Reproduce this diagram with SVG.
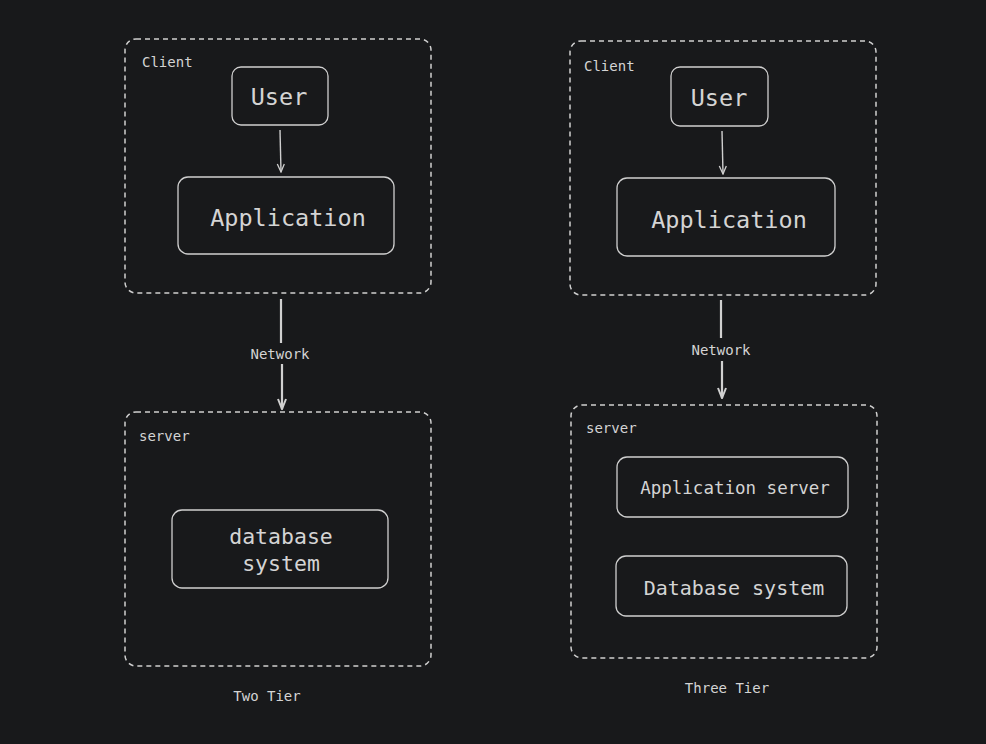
<svg xmlns="http://www.w3.org/2000/svg" width="986" height="744" viewBox="0 0 986 744">
<defs>
<style>
.bg{fill:#18191b}
.grp{fill:none;stroke:#d0d0d0;stroke-width:1.5;stroke-dasharray:5 4}
.box{fill:none;stroke:#cfcfcf;stroke-width:1.3}
.t{font-family:"DejaVu Sans Mono","Liberation Mono",monospace;fill:#d4d4d4;text-anchor:middle}
.s{font-size:14px}
.l{font-size:14px;text-anchor:start}
.big{font-size:23.5px}
.edge{fill:none;stroke:#cfcfcf;stroke-width:1.4}
.net{fill:none;stroke:#d0d0d0;stroke-width:2.2}
</style>
<marker id="ah" viewBox="0 0 10 10" refX="9" refY="5" markerWidth="10" markerHeight="10" markerUnits="userSpaceOnUse" orient="auto">
<path d="M1,1.5 L9,5 L1,8.5" fill="none" stroke="#cfcfcf" stroke-width="1.3"/>
</marker>
<marker id="ah2" viewBox="0 0 12 12" refX="11" refY="6" markerWidth="12" markerHeight="12" markerUnits="userSpaceOnUse" orient="auto">
<path d="M1,2 L11,6 L1,10" fill="none" stroke="#d0d0d0" stroke-width="2"/>
</marker>
</defs>
<rect class="bg" x="0" y="0" width="986" height="744"/>

<g id="client-left">
<rect class="grp" x="125" y="39" width="306" height="254" rx="11"/>
<text class="t l" x="142" y="67">Client</text>
</g>
<g id="user-left">
<rect class="box" x="232" y="67" width="96" height="58" rx="9"/>
<text class="t big" x="279" y="105">User</text>
</g>
<g id="app-left">
<rect class="box" x="178" y="177" width="216" height="77" rx="10"/>
<text class="t big" x="288" y="226">Application</text>
</g>
<g id="server-left">
<rect class="grp" x="125" y="412" width="306" height="254" rx="11"/>
<text class="t l" x="139" y="441">server</text>
</g>
<g id="db-left">
<rect class="box" x="172" y="510" width="216" height="78" rx="10"/>
<text class="t" style="font-size:21.5px" x="281" y="544">database</text>
<text class="t" style="font-size:21.5px" x="281" y="571">system</text>
</g>
<g id="label-two">
<text class="t s" x="267" y="701">Two Tier</text>
</g>

<g id="client-right">
<rect class="grp" x="570" y="41" width="306" height="254" rx="11"/>
<text class="t l" x="584" y="71">Client</text>
</g>
<g id="user-right">
<rect class="box" x="671" y="67" width="97" height="59" rx="9"/>
<text class="t big" x="719" y="106">User</text>
</g>
<g id="app-right">
<rect class="box" x="617" y="178" width="218" height="78" rx="10"/>
<text class="t big" x="729" y="228">Application</text>
</g>
<g id="server-right">
<rect class="grp" x="571" y="405" width="306" height="253" rx="11"/>
<text class="t l" x="586" y="433">server</text>
</g>
<g id="appserver-right">
<rect class="box" x="617" y="457" width="231" height="60" rx="10"/>
<text class="t" style="font-size:17.5px" x="735" y="494">Application server</text>
</g>
<g id="db-right">
<rect class="box" x="616" y="556" width="231" height="60" rx="10"/>
<text class="t" style="font-size:20px" x="734" y="595">Database system</text>
</g>
<g id="label-three">
<text class="t s" x="727" y="693">Three Tier</text>
</g>

<g id="connectors">
<path class="edge" d="M280,130 L281,172" marker-end="url(#ah)"/>
<path class="edge" d="M722,131 L723,174" marker-end="url(#ah)"/>
<path class="net" d="M281,299 L281,343"/>
<path class="net" d="M282,364 L282,409" marker-end="url(#ah2)"/>
<path class="net" d="M721,300 L721,338"/>
<path class="net" d="M722,361 L722,398" marker-end="url(#ah2)"/>
<text class="t s" x="280" y="359">Network</text>
<text class="t s" x="721" y="355">Network</text>
</g>
</svg>
